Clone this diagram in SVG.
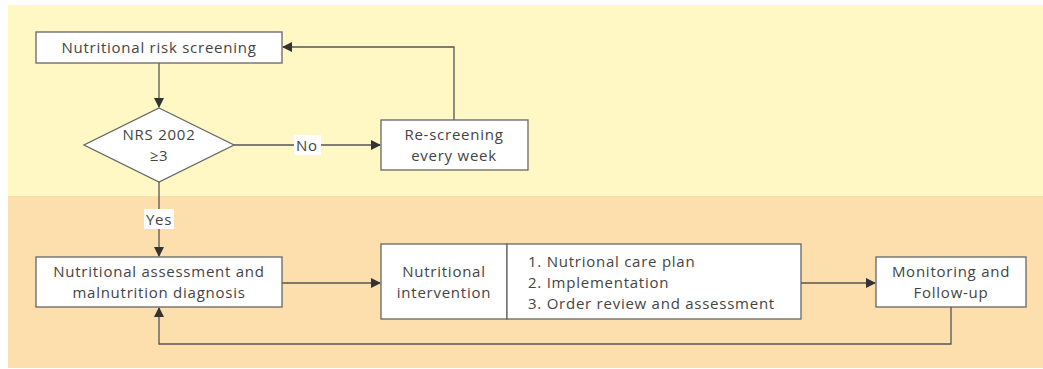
<svg xmlns="http://www.w3.org/2000/svg" width="1043" height="369" viewBox="0 0 1043 369">
<style>
.node{fill:#ffffff;stroke:#666666;stroke-width:1.3}
.t{font-family:"Open Sans","Noto Sans","Liberation Sans",sans-serif;font-size:15px;letter-spacing:0.75px;fill:#444444}
.c{text-anchor:middle}
.edge{fill:none;stroke:#555555;stroke-width:1.3}
.lbl{fill:#ffffff}
</style>
<defs>
<marker id="arr" markerWidth="10" markerHeight="10" refX="9" refY="5" orient="auto" markerUnits="userSpaceOnUse">
<path d="M0,0 L10,5 L0,10 Z" fill="#333333"/>
</marker>
</defs>
<rect x="0" y="0" width="1043" height="369" fill="#ffffff"/>
<rect id="band-top" x="8" y="5" width="1035" height="191" fill="#FFF7C4"/>
<rect id="band-bottom" x="8" y="196" width="1035" height="172" fill="#FDDEAD"/>

<g id="connectors">
<path class="edge" d="M159,63 V107" marker-end="url(#arr)"/>
<path class="edge" d="M234,145 H380" marker-end="url(#arr)"/>
<path class="edge" d="M454,120 V47 H283" marker-end="url(#arr)"/>
<path class="edge" d="M159,182 V256" marker-end="url(#arr)"/>
<path class="edge" d="M282,283 H380" marker-end="url(#arr)"/>
<path class="edge" d="M801,283 H875" marker-end="url(#arr)"/>
<path class="edge" d="M951,307 V344 H159 V308" marker-end="url(#arr)"/>
<rect class="lbl" x="294" y="135" width="27" height="20"/>
<text class="t c" x="307" y="151">No</text>
<rect class="lbl" x="144" y="209" width="30" height="20"/>
<text class="t c" x="159" y="225">Yes</text>
</g>

<g id="n-screening">
<rect class="node" x="36" y="32" width="246" height="31"/>
<text class="t c" x="159" y="53">Nutritional risk screening</text>
</g>

<g id="n-nrs">
<polygon class="node" points="159,108 234,145 159,182 84,145"/>
<text class="t c" x="159" y="140">NRS 2002</text>
<text class="t c" x="159" y="161">≥3</text>
</g>

<g id="n-rescreen">
<rect class="node" x="381" y="120" width="147" height="50"/>
<text class="t c" x="454" y="140">Re-screening</text>
<text class="t c" x="454" y="161">every week</text>
</g>

<g id="n-assessment">
<rect class="node" x="36" y="257" width="246" height="50"/>
<text class="t c" x="159" y="277">Nutritional assessment and</text>
<text class="t c" x="159" y="298">malnutrition diagnosis</text>
</g>

<g id="n-intervention">
<rect class="node" x="381" y="244" width="126" height="75"/>
<text class="t c" x="444" y="277">Nutritional</text>
<text class="t c" x="444" y="298">intervention</text>
<rect class="node" x="507" y="244" width="294" height="75"/>
<text class="t" x="528" y="267">1. Nutrional care plan</text>
<text class="t" x="528" y="288">2. Implementation</text>
<text class="t" x="528" y="309">3. Order review and assessment</text>
</g>

<g id="n-monitoring">
<rect class="node" x="876" y="257" width="150" height="50"/>
<text class="t c" x="951" y="277">Monitoring and</text>
<text class="t c" x="951" y="298">Follow-up</text>
</g>
</svg>
